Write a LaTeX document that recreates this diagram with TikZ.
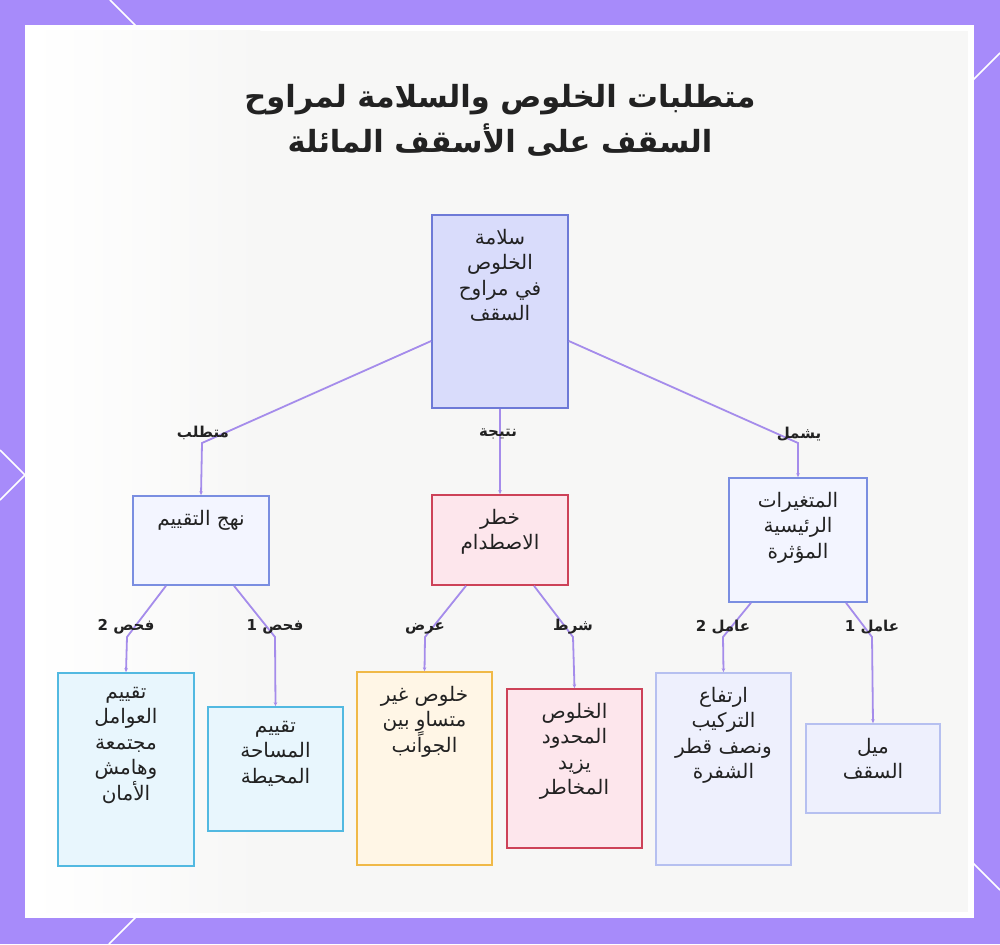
\documentclass[tikz,border=0pt]{standalone}
\usepackage{fontspec}
\TeXXeTstate=1
\newfontfamily\arabicfont[Script=Arabic]{DejaVu Sans}
\usetikzlibrary{arrows.meta}
\definecolor{bgpurple}{RGB}{167,139,250}
\definecolor{panel}{RGB}{247,247,246}
\definecolor{conn}{RGB}{165,140,235}
\definecolor{rootfill}{RGB}{217,220,251}
\definecolor{rootdraw}{RGB}{110,122,215}
\definecolor{bluefill}{RGB}{243,245,255}
\definecolor{bluedraw}{RGB}{122,142,225}
\definecolor{pinkfill}{RGB}{253,230,236}
\definecolor{pinkdraw}{RGB}{205,66,88}
\definecolor{cyanfill}{RGB}{232,246,253}
\definecolor{cyandraw}{RGB}{82,185,225}
\definecolor{orfill}{RGB}{255,246,230}
\definecolor{ordraw}{RGB}{240,185,72}
\definecolor{lbfill}{RGB}{238,240,253}
\definecolor{lbdraw}{RGB}{182,192,240}
\definecolor{ink}{RGB}{34,34,34}
\newcommand{\ar}[1]{\beginR #1\endR}
\tikzset{
  boxbase/.style={rectangle, draw, line width=1.6pt, inner sep=0pt},
  rootbox/.style={boxbase, fill=rootfill, draw=rootdraw},
  bluebox/.style={boxbase, fill=bluefill, draw=bluedraw},
  pinkbox/.style={boxbase, fill=pinkfill, draw=pinkdraw},
  cyanbox/.style={boxbase, fill=cyanfill, draw=cyandraw},
  orbox/.style={boxbase, fill=orfill, draw=ordraw},
  lbbox/.style={boxbase, fill=lbfill, draw=lbdraw},
  txt/.style={anchor=north, align=center, text=ink, inner sep=0pt,
    font=\arabicfont\fontsize{20}{25.5}\selectfont},
  lbl/.style={text=ink, inner sep=0pt, font=\arabicfont\bfseries\fontsize{15}{18}\selectfont},
  link/.style={draw=conn, line width=1.8pt, -{Stealth[length=4pt,width=3.5pt]}},
  title/.style={align=center, text=ink, font=\arabicfont\bfseries\fontsize{30.5}{45}\selectfont},
  deco/.style={white, line width=1.5pt}
}
\begin{document}
\begin{tikzpicture}[x=1pt,y=-1pt]
\useasboundingbox (0,0) rectangle (1000,944);
% background
\fill[bgpurple] (0,0) rectangle (1000,944);
\draw[deco] (110,0) -- (1000,890);
\draw[deco] (1000,53) -- (109,944);
\draw[deco] (0,450) -- (25,475) -- (0,500);
\fill[white] (25,25) rectangle (974,918);
\fill[panel] (31,31) rectangle (968,912);
\shade[left color=white, right color=panel] (31,31) rectangle (260,912);

% title
\node[title] (T) at (500,120) {\ar{متطلبات الخلوص والسلامة لمراوح}\\\ar{السقف على الأسقف المائلة}};

% boxes
\node[rootbox, minimum width=136pt, minimum height=193pt] (root) at (500,311.5) {};
\node[txt] at ([yshift=-14.5pt]root.north) {\ar{سلامة}\\\ar{الخلوص}\\\ar{في مراوح}\\\ar{السقف}};

\node[bluebox, minimum width=136pt, minimum height=89pt] (nahj) at (201,540.5) {};
\node[txt] at ([yshift=-14.5pt]nahj.north) {\ar{نهج التقييم}};

\node[pinkbox, minimum width=136pt, minimum height=90pt] (khatar) at (500,540) {};
\node[txt] at ([yshift=-14.5pt]khatar.north) {\ar{خطر}\\\ar{الاصطدام}};

\node[bluebox, minimum width=138pt, minimum height=124pt] (mut) at (798,540) {};
\node[txt] at ([yshift=-14.5pt]mut.north) {\ar{المتغيرات}\\\ar{الرئيسية}\\\ar{المؤثرة}};

\node[cyanbox, minimum width=136pt, minimum height=193pt] (awamil) at (126,769.5) {};
\node[txt] at ([yshift=-14.5pt]awamil.north) {\ar{تقييم}\\\ar{العوامل}\\\ar{مجتمعة}\\\ar{وهامش}\\\ar{الأمان}};

\node[cyanbox, minimum width=135pt, minimum height=124pt] (masaha) at (275.5,769) {};
\node[txt] at ([yshift=-14.5pt]masaha.north) {\ar{تقييم}\\\ar{المساحة}\\\ar{المحيطة}};

\node[orbox, minimum width=135pt, minimum height=193pt] (ghair) at (424.5,768.5) {};
\node[txt] at ([yshift=-14.5pt]ghair.north) {\ar{خلوص غير}\\\ar{متساوٍ بين}\\\ar{الجوانب}};

\node[pinkbox, minimum width=135pt, minimum height=159pt] (mahdud) at (574.5,768.5) {};
\node[txt] at ([yshift=-14.5pt]mahdud.north) {\ar{الخلوص}\\\ar{المحدود}\\\ar{يزيد}\\\ar{المخاطر}};

\node[lbbox, minimum width=135pt, minimum height=192pt] (irtifa) at (723.5,769) {};
\node[txt] at ([yshift=-14.5pt]irtifa.north) {\ar{ارتفاع}\\\ar{التركيب}\\\ar{ونصف قطر}\\\ar{الشفرة}};

\node[lbbox, minimum width=134pt, minimum height=89pt] (mayl) at (873,768.5) {};
\node[txt] at ([yshift=-14.5pt]mayl.north) {\ar{ميل}\\\ar{السقف}};

% bend points
\coordinate (b1) at (202,443);
\coordinate (b2) at (500,443);
\coordinate (b3) at (798,443);
\coordinate (b4) at (127,637);
\coordinate (b5) at (275,637);
\coordinate (b6) at (425,637);
\coordinate (b7) at (573,637);
\coordinate (b8) at (723,637);
\coordinate (b9) at (872,637);

% connectors
\draw[link] ([yshift=-29.5pt]root.west) -- (b1) -- (nahj.north);
\draw[link] (root.south) -- (b2) -- (khatar.north);
\draw[link] ([yshift=-29.5pt]root.east) -- (b3) -- (mut.north);
\draw[link] ([xshift=-35pt]nahj.south) -- (b4) -- (awamil.north);
\draw[link] ([xshift=33pt]nahj.south) -- (b5) -- (masaha.north);
\draw[link] ([xshift=-34pt]khatar.south) -- (b6) -- (ghair.north);
\draw[link] ([xshift=34pt]khatar.south) -- (b7) -- (mahdud.north);
\draw[link] ([xshift=-47pt]mut.south) -- (b8) -- (irtifa.north);
\draw[link] ([xshift=48pt]mut.south) -- (b9) -- (mayl.north);

% labels
\node[lbl] (l1) at (203,433) {\ar{متطلب}};
\node[lbl] (l2) at (498,434) {\ar{نتيجة}};
\node[lbl] (l3) at (799,434) {\ar{يشمل}};
\node[lbl] (l4) at (126,627) {\ar{فحص 2}};
\node[lbl] (l5) at (275,627) {\ar{فحص 1}};
\node[lbl] (l6) at (425,628) {\ar{عرض}};
\node[lbl] (l7) at (573,627) {\ar{شرط}};
\node[lbl] (l8) at (723,627) {\ar{عامل 2}};
\node[lbl] (l9) at (872,627) {\ar{عامل 1}};
\end{tikzpicture}
\end{document}
